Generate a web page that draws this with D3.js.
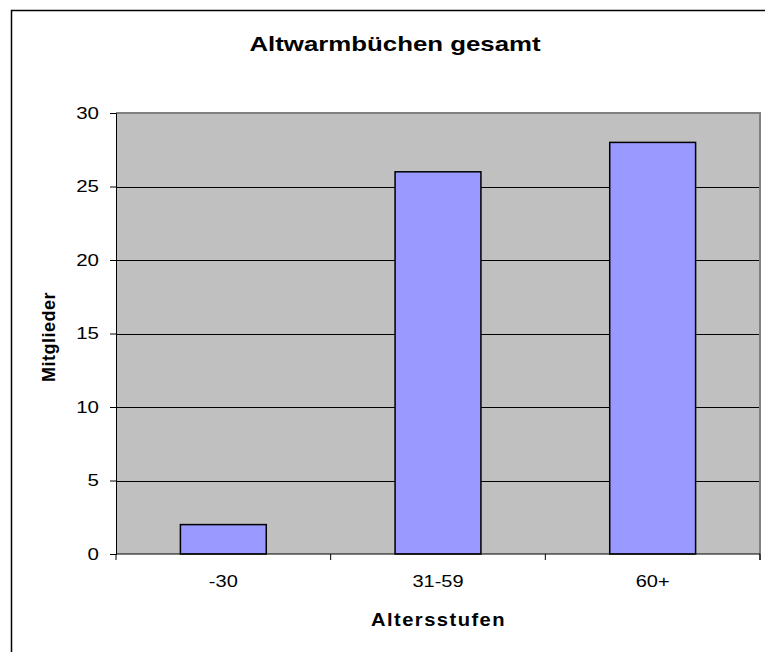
<!DOCTYPE html>
<html><head><meta charset="utf-8">
<script src="https://cdn.jsdelivr.net/npm/d3@7"></script>
<style>body{margin:0;background:#fff;}svg{display:block;}</style>
</head><body>
<svg id="c" width="765" height="652"></svg>
<script>
const categories = ["-30", "31-59", "60+"];
const values = [2, 26, 28];
const yTicks = [0, 5, 10, 15, 20, 25, 30];
const title = "Altwarmbüchen gesamt";
const xTitle = "Altersstufen";
const yTitle = "Mitglieder";

const svg = d3.select("#c");
const font = "Liberation Sans, Arial, sans-serif";
const L = 116, R = 760, T = 113, B = 554;

function label(x0, y0, txt, opts) {
  const g = svg.append("g").attr("transform", `translate(${x0},${y0}) ${opts.rot ? "rotate(-90)" : ""} scale(${opts.sx || 1},1)`);
  return g.append("text").attr("x", 0).attr("y", 0).attr("text-anchor", opts.anchor || "middle")
    .attr("font-family", font).attr("font-weight", opts.bold ? "bold" : "normal")
    .attr("font-size", opts.size).attr("letter-spacing", opts.ls || 0)
    .attr("dy", opts.dy || 0).attr("fill", "#000").text(txt);
}

// outer chart border (left & top visible)
svg.append("path").attr("d", "M11.5,652 L11.5,10.5 L765,10.5")
  .attr("fill", "none").attr("stroke", "#000").attr("stroke-width", 1.5);

const x = d3.scaleBand().domain(categories).range([L, R]).paddingInner(0.6).paddingOuter(0.3);
const xb = d3.scaleBand().domain(categories).range([L, R]).padding(0);
const y = d3.scaleLinear().domain([0, 30]).range([B, T]);

svg.append("rect").attr("x", L).attr("y", T).attr("width", R - L).attr("height", B - T)
  .attr("fill", "#c0c0c0");

// gridlines
svg.append("g").selectAll("line").data(yTicks.filter(d => d > 0 && d < 30)).join("line")
  .attr("x1", L).attr("x2", R).attr("y1", d => Math.round(y(d)) + 0.5).attr("y2", d => Math.round(y(d)) + 0.5)
  .attr("stroke", "#000").attr("stroke-width", 1);

// plot border top/right gray
svg.append("path").attr("d", `M${L},${T} L${R},${T} L${R},${B + 6}`)
  .attr("fill", "none").attr("stroke", "#808080").attr("stroke-width", 2);

// bars
svg.append("g").selectAll("rect").data(values).join("rect")
  .attr("x", (d, i) => x(categories[i]))
  .attr("width", x.bandwidth())
  .attr("y", d => y(d))
  .attr("height", d => B - y(d))
  .attr("fill", "#9999ff").attr("stroke", "#000").attr("stroke-width", 1.5);

// y axis
const yAxis = d3.axisLeft(y).tickValues(yTicks).tickSize(6).tickFormat("");
const gy = svg.append("g").attr("transform", `translate(${L},0)`).call(yAxis);
gy.select(".domain").attr("stroke", "#000");
yTicks.forEach(t => label(L - 17, y(t), String(t), {size: 16, sx: 1.28, anchor: "end", dy: "0.36em"}));

// x axis
const gx = svg.append("g").attr("transform", `translate(0,${B})`);
gx.append("line").attr("x1", L).attr("x2", R).attr("y1", 0).attr("y2", 0).attr("stroke", "#000");
gx.selectAll(".tk").data(categories.concat(["end"])).join("line").attr("class", "tk")
  .attr("x1", (d, i) => i < 3 ? xb(d) : R).attr("x2", (d, i) => i < 3 ? xb(d) : R)
  .attr("y1", 0).attr("y2", 6).attr("stroke", "#000");
categories.forEach(c => label(xb(c) + xb.bandwidth() / 2, B + 33, c, {size: 16, sx: 1.25}));

// titles
label(395, 51, title, {size: 21, bold: true, sx: 1.23});
label((L + R) / 2 + 0.5, 626, xTitle, {size: 18, bold: true, sx: 1.12, ls: 1.3});
label(55, 337, yTitle, {size: 18, bold: true, rot: true, ls: 0.5});
</script>
</body></html>
